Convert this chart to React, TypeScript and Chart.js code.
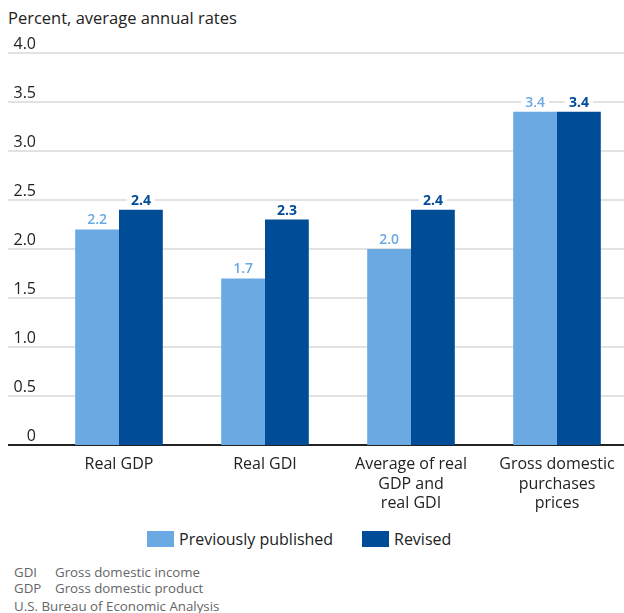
import React, { useEffect, useRef } from "react";
import { Chart, registerables } from "chart.js";

Chart.register(...registerables);

const categories: (string | string[])[] = [
  "Real GDP",
  "Real GDI",
  ["Average of real", "GDP and", "real GDI"],
  ["Gross domestic", "purchases", "prices"],
];
const previouslyPublished = [2.2, 1.7, 2.0, 3.4];
const revised = [2.4, 2.3, 2.4, 3.4];
const yTicks = [0, 0.5, 1.0, 1.5, 2.0, 2.5, 3.0, 3.5, 4.0];
const yTickLabels = ["0", "0.5", "1.0", "1.5", "2.0", "2.5", "3.0", "3.5", "4.0"];

const LIGHT = "#6aa9e2";
const DARK = "#004c97";
const FONT = "'Open Sans', 'Noto Sans', sans-serif";

// Horizontal grid, zero line and y tick labels across the full width
const gridPlugin = {
  id: "fullGrid",
  beforeDatasetsDraw(chart: any) {
    const { ctx } = chart;
    const y = chart.scales.y;
    ctx.save();
    yTicks.forEach((v, i) => {
      const py = Math.round(y.getPixelForValue(v));
      if (v === 0) {
        ctx.strokeStyle = "#222";
        ctx.lineWidth = 2;
      } else {
        ctx.strokeStyle = "#d9d9d9";
        ctx.lineWidth = 1.5;
      }
      ctx.beginPath();
      ctx.moveTo(8, py);
      ctx.lineTo(624, py);
      ctx.stroke();
      ctx.fillStyle = "#222";
      ctx.font = `16px ${FONT}`;
      ctx.textAlign = "right";
      ctx.textBaseline = "bottom";
      ctx.fillText(yTickLabels[i], 36, py - 1);
    });
    ctx.restore();
  },
};

// Value labels above each bar on a white backing
const valueLabelPlugin = {
  id: "valueLabels",
  afterDatasetsDraw(chart: any) {
    const { ctx } = chart;
    ctx.save();
    chart.data.datasets.forEach((ds: any, di: number) => {
      const meta = chart.getDatasetMeta(di);
      meta.data.forEach((bar: any, i: number) => {
        const text = Number(ds.data[i]).toFixed(1);
        ctx.font = `${di === 0 ? 600 : 700} 14px ${FONT}`;
        const w = ctx.measureText(text).width;
        const cy = bar.y - 9;
        ctx.fillStyle = "#fff";
        ctx.fillRect(bar.x - w / 2 - 4, cy - 8, w + 8, 16);
        ctx.fillStyle = di === 0 ? LIGHT : DARK;
        ctx.textAlign = "center";
        ctx.textBaseline = "middle";
        ctx.fillText(text, bar.x, cy);
      });
    });
    ctx.restore();
  },
};

export default function App() {
  const canvasRef = useRef<HTMLCanvasElement>(null);

  useEffect(() => {
    if (!canvasRef.current) return;
    const chart = new Chart(canvasRef.current, {
      type: "bar",
      data: {
        labels: categories,
        datasets: [
          {
            label: "Previously published",
            data: previouslyPublished,
            backgroundColor: LIGHT,
            categoryPercentage: 0.6,
            barPercentage: 1.0,
          },
          {
            label: "Revised",
            data: revised,
            backgroundColor: DARK,
            categoryPercentage: 0.6,
            barPercentage: 1.0,
          },
        ],
      },
      options: {
        responsive: false,
        animation: false,
        layout: { padding: { top: 53, left: 46, right: 2, bottom: 0 } },
        plugins: {
          legend: { display: false },
          tooltip: { enabled: false },
        },
        scales: {
          y: {
            display: false,
            min: 0,
            max: 4,
          },
          x: {
            grid: { display: false, drawTicks: false },
            border: { display: false },
            ticks: {
              color: "#222",
              font: { family: FONT, size: 16, lineHeight: 1.22 },
              padding: 10,
              maxRotation: 0,
              autoSkip: false,
            },
            afterFit(scale: any) {
              scale.height = 75;
            },
          },
        },
      },
      plugins: [gridPlugin, valueLabelPlugin],
    });
    return () => chart.destroy();
  }, []);

  const legendItem = (left: number, color: string, text: string) => (
    <div
      style={{
        position: "absolute",
        left,
        top: 528,
        display: "flex",
        alignItems: "center",
        fontSize: 16,
        color: "#222",
      }}
    >
      <span style={{ display: "inline-block", width: 27, height: 16, background: color, marginRight: 5 }} />
      {text}
    </div>
  );

  return (
    <div
      style={{
        position: "fixed",
        left: 0,
        top: 0,
        width: 624,
        height: 613,
        overflow: "hidden",
        background: "#fff",
        fontFamily: FONT,
      }}
    >
      <div style={{ position: "absolute", left: 8, top: 6, fontSize: 16.5, color: "#222" }}>
        Percent, average annual rates
      </div>
      <canvas
        ref={canvasRef}
        width={632}
        height={520}
        style={{ position: "absolute", left: 0, top: 0, width: 632, height: 520 }}
      />
      {legendItem(147, LIGHT, "Previously published")}
      {legendItem(362, DARK, "Revised")}
      <div style={{ position: "absolute", left: 14, top: 565, fontSize: 13.3, color: "#666", lineHeight: "15.5px" }}>
        <div>
          <span style={{ display: "inline-block", width: 41 }}>GDI</span>Gross domestic income
        </div>
        <div>
          <span style={{ display: "inline-block", width: 41 }}>GDP</span>Gross domestic product
        </div>
        <div style={{ marginTop: 3 }}>U.S. Bureau of Economic Analysis</div>
      </div>
    </div>
  );
}
